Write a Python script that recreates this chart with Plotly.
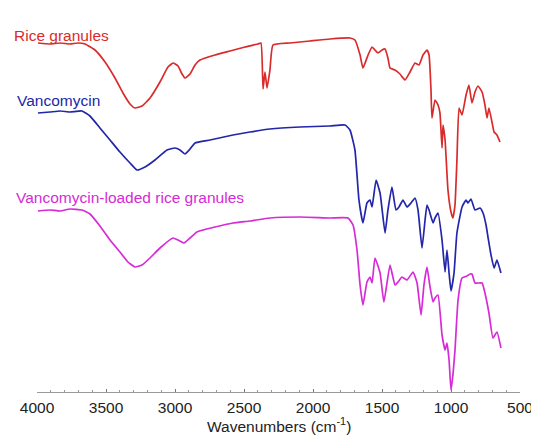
import plotly.graph_objects as go

# ---- data (y = offset transmittance, arbitrary units) ----
rice_wn = [3993, 3906, 3833, 3761, 3703, 3652, 3580, 3507, 3435, 3377, 3326, 3290, 3239, 3181, 3109,
           3051, 3014, 2978, 2949, 2928, 2891, 2855, 2819, 2710, 2601, 2493, 2399, 2377, 2362, 2348,
           2333, 2312, 2290, 2167, 2022, 1877, 1732, 1696, 1659, 1638, 1601, 1572, 1551, 1529, 1500,
           1478, 1457, 1442, 1406, 1370, 1333, 1297, 1261, 1232, 1203, 1174, 1159, 1145, 1138, 1116,
           1094, 1080, 1065, 1058, 1043, 1022, 1000, 986, 971, 957, 942, 920, 891, 870, 848,
           826, 804, 775, 754, 739, 725, 703, 688, 667, 645]
rice_t = [403, 402, 403, 402, 403, 402, 396, 384, 368, 353, 342, 338, 340, 348, 364,
          379, 383, 380, 372, 368, 372, 381, 386, 391, 395, 399, 402, 403, 357, 374,
          358, 376, 401, 403, 405, 407, 408, 406, 391, 378, 391, 399, 396, 393, 396,
          397, 388, 378, 376, 372, 366, 374, 383, 381, 391, 396, 391, 356, 328, 346,
          341, 333, 298, 321, 306, 256, 234, 228, 241, 286, 338, 331, 351, 361, 343,
          354, 360, 354, 341, 328, 338, 324, 314, 311, 304]

vanco_wn = [3993, 3906, 3833, 3761, 3674, 3616, 3544, 3471, 3399, 3326, 3275, 3217, 3145, 3058, 3000,
            2964, 2928, 2891, 2855, 2746, 2580, 2457, 2312, 2094, 1877, 1768, 1732, 1696, 1667, 1638,
            1609, 1587, 1572, 1543, 1514, 1478, 1457, 1428, 1399, 1377, 1348, 1319, 1290, 1261, 1239,
            1210, 1188, 1174, 1159, 1130, 1116, 1094, 1065, 1043, 1029, 1014, 1000, 978, 957, 920,
            891, 877, 855, 826, 790, 768, 746, 732, 710, 688, 667, 638]
vanco_t = [333, 334, 335, 334, 335, 330, 318, 306, 294, 283, 276, 279, 286, 296, 298,
           296, 292, 297, 303, 306, 311, 314, 317, 319, 320, 321, 316, 296, 246, 223,
           243, 246, 239, 266, 253, 213, 236, 259, 236, 239, 246, 239, 243, 248, 236,
           198, 226, 241, 236, 223, 228, 233, 206, 174, 196, 173, 155, 173, 213, 239,
           246, 243, 247, 236, 238, 233, 221, 209, 191, 178, 186, 173]

loaded_wn = [3993, 3906, 3833, 3761, 3674, 3616, 3544, 3471, 3399, 3341, 3290, 3239, 3181, 3109, 3014,
             2978, 2935, 2891, 2841, 2710, 2580, 2457, 2312, 2094, 1877, 1746, 1710, 1681, 1659, 1638,
             1609, 1587, 1572, 1551, 1514, 1486, 1442, 1406, 1384, 1355, 1319, 1275, 1246, 1217, 1196,
             1174, 1152, 1130, 1116, 1094, 1065, 1043, 1029, 1014, 1000, 986, 971, 949, 920, 884,
             862, 848, 826, 775, 754, 725, 696, 667, 638]
loaded_t = [235, 236, 235, 237, 236, 232, 220, 206, 194, 184, 179, 181, 188, 198, 208,
            206, 203, 208, 214, 219, 223, 225, 228, 229, 228, 228, 221, 196, 161, 141,
            164, 169, 163, 188, 173, 144, 181, 161, 164, 169, 166, 174, 163, 131, 161,
            179, 159, 144, 148, 151, 111, 96, 103, 86, 56, 71, 96, 146, 168, 170,
            172, 172, 163, 163, 153, 133, 108, 114, 98]

series = [
    ("Rice granules", rice_wn, rice_t, "#d92b2b", -0.052, 411),
    ("Vancomycin", vanco_wn, vanco_t, "#2326a8", -0.046, 346),
    ("Vancomycin-loaded rice granules", loaded_wn, loaded_t, "#d62bd6", -0.048, 249),
]

major_ticks = [4000, 3500, 3000, 2500, 2000, 1500, 1000, 500]
x_title = "Wavenumbers (cm<sup>-1</sup>)"
FONT = "Liberation Sans, Arial, sans-serif"

fig = go.Figure()
for name, wn, t, color, lx, ly in series:
    fig.add_trace(go.Scatter(x=wn, y=t, mode="lines", name=name,
                             line=dict(color=color, width=1.7, shape="spline", smoothing=0.4),
                             showlegend=False))
    fig.add_annotation(x=lx, y=ly, xref="paper", yref="y", text=name, showarrow=False,
                       xanchor="left", yanchor="middle",
                       font=dict(family=FONT, size=15.5, color=color))

# axis title as an annotation so it sits at the reference's height
fig.add_annotation(x=0.5, y=-0.086, xref="paper", yref="paper", text=x_title, showarrow=False,
                   xanchor="center", yanchor="middle",
                   font=dict(family=FONT, size=15.5, color="#222"))

# page body has an 8 px margin, so the figure is sized/margined to compensate
fig.update_layout(
    width=531, height=438,
    margin=dict(l=29, r=19, t=2, b=54, autoexpand=False),
    paper_bgcolor="white", plot_bgcolor="white",
    xaxis=dict(range=[4000, 500], tickvals=major_ticks, automargin=False,
               ticktext=[str(v) for v in major_ticks],
               showgrid=False, zeroline=False, showline=True, linecolor="#9a9a9a", linewidth=1,
               ticks="inside", ticklen=3, tickcolor="#777",
               minor=dict(dtick=100, ticks="inside", ticklen=2, tickcolor="#999"),
               tickfont=dict(family=FONT, size=15.5, color="#222"),
               ticklabelstandoff=1),
    yaxis=dict(range=[54, 436], visible=False, automargin=False),
)

fig.write_html("out.html")
